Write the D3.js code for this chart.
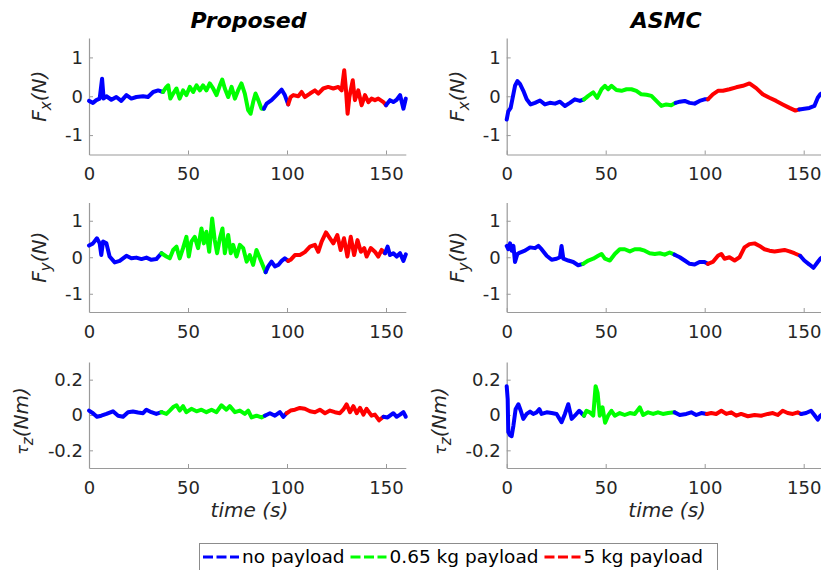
<!DOCTYPE html>
<html>
<head>
<meta charset="utf-8">
<script src="https://cdn.jsdelivr.net/npm/d3@7"></script>
<style>
  body { margin: 0; background: #fff; }
  svg { display: block; font-family: "DejaVu Sans", sans-serif; }
</style>
</head>
<body>
<div id="chart"></div>
<script>
// phases of the run, in the order they occur along time
var phaseNames = ["no payload", "0.65 kg payload", "5 kg payload"];
var phaseColors = ["#0000ff", "#00ff00", "#ff0000"];
var phaseOrder = [0, 1, 0, 2, 0];
var propBreaks = [39, 89.3, 101.5, 150.5];
var asmcBreaks = [39.5, 86, 102.5, 149];

var methods = ["Proposed", "ASMC"];
var xTicks = [0, 50, 100, 150];
var forceTicks = [-1, 0, 1];
var torqueTicks = [-0.2, 0, 0.2];

// [time (s), value]
var propFx = [[0,-0.12],[2,-0.17],[3.7,-0.1],[5.4,-0.06],[6.6,0.45],[7.4,-0.06],[8.8,0],[11.3,-0.09],[13.8,-0.02],[16.3,-0.12],
  [18.9,0.03],[21.4,-0.06],[23.9,-0.02],[27.3,0],[29.8,-0.02],[32.4,0.11],[34.9,0.15],[37.4,0.11],[39.1,0.24],[40,0.28],
  [41.1,-0.06],[42.5,0.07],[44.2,0.2],[45.8,-0.06],[47.5,0.15],[49.2,0.03],[50.9,0.24],[52.6,0.11],[54.3,0.28],[56,0.15],
  [57.6,0.28],[59.3,0.15],[61,0.33],[62.7,0.2],[64.4,0.03],[66.1,0.28],[67.3,0.43],[68.6,0.2],[70.3,-0.02],[72,0.24],
  [73.7,-0.06],[75.3,0.15],[77,0.33],[78.7,0.07],[80.4,-0.36],[81.6,-0.45],[82.9,-0.15],[84.1,0.07],[85.5,-0.1],[87.1,-0.32],
  [88.3,-0.32],[89.7,-0.19],[92.2,-0.1],[94.7,0.03],[97.3,0.17],[98.9,0.03],[100.6,-0.21],[101.8,-0.02],[103.2,0.03],[105.7,0],
  [107.4,0.11],[109,-0.02],[111.6,0.07],[114.1,0.15],[115.8,0.07],[118.3,0.2],[120.8,0.24],[123.4,0.2],[125.9,0.24],[127.6,0.15],
  [128.9,0.67],[129.8,0.15],[130.6,-0.45],[131.5,-0.02],[133.2,0.41],[134.3,-0.1],[136,0.15],[137.7,-0.23],[139.4,0.03],[141.1,-0.15],
  [142.7,-0.06],[144.4,-0.1],[146.1,-0.06],[148.7,-0.15],[150,-0.23],[152,-0.1],[153.7,-0.15],[155.4,-0.09],[157.1,0.03],[158.8,-0.32],
  [160,-0.06]];

var propFy = [[0,0.32],[2,0.38],[4,0.52],[5.4,0.38],[6.2,0.06],[7.1,0.43],[8.8,0.38],[10.4,0.02],[13,-0.14],[15.5,-0.1],
  [18.9,0.04],[21.4,-0.03],[23.9,-0.01],[26.5,-0.05],[29,-0.01],[31.5,-0.07],[34,-0.05],[36.6,0.11],[39.1,0.02],[40.8,-0.03],
  [42.5,0.2],[44.2,0.29],[45.8,-0.03],[47.5,0.25],[49.2,0.56],[50.4,0.02],[51.7,0.43],[53.4,0.56],[55.1,0.25],[56.8,0.79],
  [58,0.38],[59.3,0.7],[60.7,0.15],[62.2,1.06],[63.5,0.47],[64.7,0.11],[66.1,0.52],[67.4,0.79],[68.6,0.11],[70.3,0.61],
  [71.6,0.11],[72.8,0.34],[74.5,0.02],[76.2,0.34],[77.9,0.25],[79.6,-0.12],[81.2,0.06],[82.9,-0.21],[84.6,0.2],[86.3,-0.03],
  [88,-0.25],[89.2,-0.41],[90.5,-0.25],[92.2,-0.12],[93.9,-0.25],[95.6,-0.21],[97.3,-0.1],[98.9,-0.03],[100.6,-0.1],[101.8,-0.07],
  [104,0.06],[106.5,0.06],[109,0.14],[111.6,0.29],[114.1,0.34],[115.8,0.15],[117.5,0.43],[119.7,0.68],[121.7,0.52],[123.4,0.38],
  [125.4,0.61],[127.1,0.2],[128.8,0.52],[130.5,0.02],[132.2,0.56],[133.9,0.06],[135.6,0.47],[137.3,0.15],[139,0.25],[140.2,0.02],
  [142.3,0.25],[144.4,0.15],[146.1,0.02],[147.8,0.2],[149.5,0.11],[150.8,0.29],[152,0.06],[153.7,0.11],[155.4,0.02],[157.1,0.11],
  [158.8,-0.1],[160,0.08]];

var propTz = [[0,0.025],[2,0.01],[4,-0.01],[6.2,-0.004],[8.8,0.006],[12.1,0.021],[14.7,-0.004],[17.2,-0.01],[19.7,0.016],[22.2,0.02],
  [24.8,0.014],[27.3,0.01],[29,0.03],[31.5,0.016],[34,0.006],[36.6,0.016],[39.1,0.006],[40.8,0.025],[42.5,0.045],[44.2,0.055],
  [45.8,0.025],[47.5,0.05],[49.2,0.016],[51.7,0.035],[54.3,0.021],[56.8,0.03],[59.3,0.016],[61.9,0.03],[64.4,0.016],[66.9,0.055],
  [69.4,0.03],[71.1,0.05],[73.7,0.016],[76.2,0.025],[78.7,0.006],[80.4,0.025],[82.1,-0.014],[84.6,-0.004],[87.1,-0.014],[88.8,-0.004],
  [91.4,0.01],[93.9,-0.004],[96.4,0.016],[98.1,-0.01],[99.8,0.01],[101.8,0.025],[104,0.03],[106.5,0.04],[109,0.035],[111.6,0.021],
  [114.1,0.016],[116.6,0.03],[119.2,0.01],[121.7,0.025],[124.2,0.016],[126.7,0.01],[128.4,0.03],[130.1,0.06],[131.8,0.016],[133.5,0.05],
  [135.2,0.01],[136.9,0.04],[138.6,0.002],[140.2,0.035],[142.7,-0.004],[144.4,0.002],[146.5,-0.03],[148.7,-0.01],[150.8,-0.014],[152,-0.004],
  [153.7,0.01],[155.4,-0.01],[157.1,0.002],[158.8,0.016],[160,-0.01]];

var asmcFx = [[0,-0.6],[0.8,-0.39],[2,-0.3],[3,-0.04],[4.2,0.27],[5.4,0.39],[6.7,0.32],[8.4,0.14],[10.1,-0.08],[12.1,-0.21],
  [14.3,-0.17],[16.8,-0.11],[19.3,-0.21],[21.8,-0.17],[24.4,-0.19],[26.9,-0.14],[29.4,-0.25],[31.9,-0.17],[34.4,-0.08],[37,-0.12],
  [39,-0.08],[41.2,0.01],[43.7,0.1],[45.7,-0.04],[47.9,0.18],[49.6,0.27],[51.2,0.18],[52.9,0.27],[55.4,0.16],[58,0.14],
  [60.5,0.18],[63,0.18],[65.5,0.14],[68,0.05],[70.6,0.04],[73.1,0.01],[75.6,-0.12],[78.1,-0.25],[80.6,-0.21],[83.1,-0.23],
  [85.3,-0.17],[87.4,-0.14],[89.9,-0.12],[92.4,-0.17],[94.9,-0.19],[97.4,-0.12],[99.9,-0.08],[101.6,-0.08],[104.1,0.05],[106.7,0.14],
  [109.2,0.14],[112.5,0.18],[115.9,0.23],[119.3,0.27],[122.6,0.33],[126,0.21],[129.3,0.05],[132.7,-0.04],[136.1,-0.12],[139.4,-0.21],
  [142.8,-0.3],[145.8,-0.37],[147.8,-0.34],[150.3,-0.32],[152.9,-0.3],[155.4,-0.25],[157.1,-0.04],[158.4,0.05],[160,0.1]];

var asmcFy = [[0,0.31],[0.8,0.22],[1.7,0.38],[2.5,0.18],[3.4,0.31],[4.2,-0.13],[5.4,0.09],[6.7,0.13],[9.2,0.18],[11.8,0.27],
  [14.3,0.25],[16,0.31],[17.6,0.22],[20.2,0.04],[22.7,-0.07],[25.2,-0.04],[26.9,0],[27.7,0.31],[28.6,-0.04],[31.1,-0.09],
  [33.6,-0.13],[36.1,-0.22],[38.6,-0.18],[41.2,-0.09],[43.7,-0.04],[46.2,0.04],[47.9,0.09],[49.6,-0.04],[52.1,-0.09],[54.6,0.09],
  [57.1,0.22],[59.6,0.22],[62.2,0.16],[64.7,0.22],[67.2,0.22],[69.7,0.18],[72.2,0.11],[74.8,0.09],[77.3,0.11],[79.8,0.07],
  [82.3,0.13],[84.8,0.07],[87.4,0],[89.9,-0.09],[92.4,-0.18],[94.9,-0.2],[97.4,-0.13],[99.9,-0.13],[101.6,-0.18],[104.1,-0.13],
  [106.7,0.04],[108.4,0.09],[110,-0.04],[112.5,0],[115.1,-0.09],[117.6,0],[120.1,0.27],[122.6,0.36],[125.2,0.38],[127.7,0.31],
  [130.2,0.22],[132.7,0.18],[135.3,0.16],[137.8,0.18],[140.3,0.2],[142.8,0.16],[145.3,0.11],[148.2,0.04],[150.3,-0.09],[152.9,-0.2],
  [154.9,-0.29],[157.1,-0.13],[158.4,-0.04],[160,0.02]];

var asmcTz = [[0,0.163],[0.5,0.09],[0.8,-0.096],[1.7,-0.115],[2.5,-0.12],[3.4,-0.06],[4.5,0.033],[5.9,0.061],[7.1,0.024],[8.4,-0.022],
  [10.1,0.006],[11.8,0.019],[13.4,0.006],[15.1,0.015],[16.5,0.033],[17.6,0.006],[20.2,0.015],[22.7,0.011],[25.2,0.006],[27.7,-0.041],
  [29.4,0.006],[31.1,0.061],[32.8,-0.022],[34.4,-0.004],[36.6,0.024],[39,-0.004],[40.3,0.024],[42,0.015],[43.7,-0.004],[44.9,0.163],
  [45.9,0.126],[47,-0.004],[48.4,0.043],[49.7,-0.044],[51.2,-0.004],[52.9,0.024],[54.6,-0.004],[57.1,0.011],[59.6,0],[62.2,0.011],
  [64.7,0.006],[67.2,0.043],[68.9,0],[71.4,0.015],[74,0.006],[76.4,0.015],[78.9,0.006],[81.5,0.011],[84.8,0.015],[87.4,0],
  [90.7,0.006],[93.2,0.015],[95.7,0],[98.3,0.011],[101.1,0.006],[103.3,0.011],[105.8,0.006],[108.4,0.024],[110.9,0.006],[113.4,0.015],
  [115.9,-0.004],[118.4,0.006],[121.8,-0.007],[125.2,0],[128.5,-0.004],[131.9,0.006],[134.4,0.011],[136.9,0],[139.4,0.024],[141.9,0.011],
  [144.5,0.006],[147,0.015],[148.7,0.006],[151.2,0.011],[153.7,0.024],[155.4,0],[157.1,-0.026],[158.4,-0.004],[160,0.01]];

var W = 821, H = 570;
var colLeft = [89, 506.7];
var plotW = 316.8;
var rows = [
  { top: 38, bottom: 154.5, domain: [-1.5, 1.5], ticks: forceTicks, sym: "F", symSize: 20, sub: "x", unit: "(N)", labOff: 43 },
  { top: 202.5, bottom: 312, domain: [-1.5, 1.5], ticks: forceTicks, sym: "F", symSize: 20, sub: "y", unit: "(N)", labOff: 43 },
  { top: 362, bottom: 468, domain: [-0.3, 0.3], ticks: torqueTicks, sym: "\u03c4", symSize: 16, sub: "z", unit: "(Nm)", labOff: 61 }
];
var series = [[propFx, propFy, propTz], [asmcFx, asmcFy, asmcTz]];
var breaks = [propBreaks, asmcBreaks];

var svg = d3.select("#chart").append("svg").attr("width", W).attr("height", H);

function phaseOf(t, br) {
  var k = 0;
  while (k < br.length && t >= br[k]) k++;
  return phaseOrder[k];
}

// split a series into runs of one phase; each run starts at the previous run's last point
function segments(data, br) {
  var segs = [], cur = null;
  data.forEach(function(d) {
    var p = phaseOf(d[0], br);
    if (!cur || cur.phase !== p) {
      cur = { phase: p, pts: cur ? [cur.pts[cur.pts.length - 1]] : [] };
      segs.push(cur);
    }
    cur.pts.push(d);
  });
  return segs;
}

methods.forEach(function(m, c) {
  var x = d3.scaleLinear().domain([0, 160]).range([colLeft[c], colLeft[c] + plotW]);

  svg.append("text")
    .attr("x", colLeft[c] + plotW / 2 + 1).attr("y", 28)
    .attr("text-anchor", "middle")
    .style("font-size", "22px").style("font-weight", "bold").style("font-style", "italic")
    .attr("fill", "#000").text(m);

  rows.forEach(function(r, ri) {
    var y = d3.scaleLinear().domain(r.domain).range([r.bottom, r.top]);

    var gx = svg.append("g").attr("transform", "translate(0," + r.bottom + ")")
      .call(d3.axisBottom(x).tickValues(xTicks).tickSize(-4).tickSizeOuter(0).tickPadding(13));
    var gy = svg.append("g").attr("transform", "translate(" + colLeft[c] + ",0)")
      .call(d3.axisLeft(y).tickValues(r.ticks).tickSize(-4).tickSizeOuter(0).tickPadding(6)
        .tickFormat(function(d) { return String(d); }));
    [gx, gy].forEach(function(g) {
      g.select(".domain").attr("stroke", "#9a9a9a").attr("stroke-width", 1.2);
      g.selectAll(".tick line").attr("stroke", "#9a9a9a");
      g.selectAll(".tick text").attr("fill", "#262626")
        .style("font-size", "18px").style("font-family", "DejaVu Sans, sans-serif");
    });

    var line = d3.line().x(function(d) { return x(d[0]); }).y(function(d) { return y(d[1]); });
    segments(series[c][ri], breaks[c]).forEach(function(s) {
      svg.append("path").attr("d", line(s.pts))
        .attr("fill", "none").attr("stroke", phaseColors[s.phase])
        .attr("stroke-width", 4).attr("stroke-linejoin", "round").attr("stroke-linecap", "round");
    });

    var lab = svg.append("text")
      .attr("transform", "translate(" + (colLeft[c] - r.labOff) + "," + ((r.top + r.bottom) / 2 + (ri === 2 ? 6 : 0)) + ") rotate(-90)")
      .attr("text-anchor", "middle").attr("fill", "#262626")
      .style("font-size", "20px").style("font-style", "italic");
    lab.append("tspan").style("font-size", r.symSize + "px").text(r.sym);
    lab.append("tspan").attr("dy", 5).style("font-size", "15px").text(r.sub);
    lab.append("tspan").attr("dy", -5).text(r.unit);
  });

  svg.append("text")
    .attr("x", colLeft[c] + plotW / 2 + 2).attr("y", 517)
    .attr("text-anchor", "middle").attr("fill", "#262626")
    .style("font-size", "20px").style("font-style", "italic")
    .text("time (s)");
});

// legend
var leg = svg.append("g");
leg.append("rect").attr("x", 199.5).attr("y", 543.5).attr("width", 518).attr("height", 27)
  .attr("fill", "#fff").attr("stroke", "#8c8c8c").attr("stroke-width", 1);
var lx = 203;
phaseNames.forEach(function(name, i) {
  leg.append("line").attr("x1", lx).attr("x2", lx + 36).attr("y1", 557).attr("y2", 557)
    .attr("stroke", phaseColors[i]).attr("stroke-width", 3.2).attr("stroke-dasharray", "10,3.5");
  var t = leg.append("text").attr("x", lx + 39).attr("y", 563).attr("fill", "#000")
    .style("font-size", "18.5px").text(name);
  lx += 39 + t.node().getComputedTextLength() + 6;
});
</script>
</body>
</html>
